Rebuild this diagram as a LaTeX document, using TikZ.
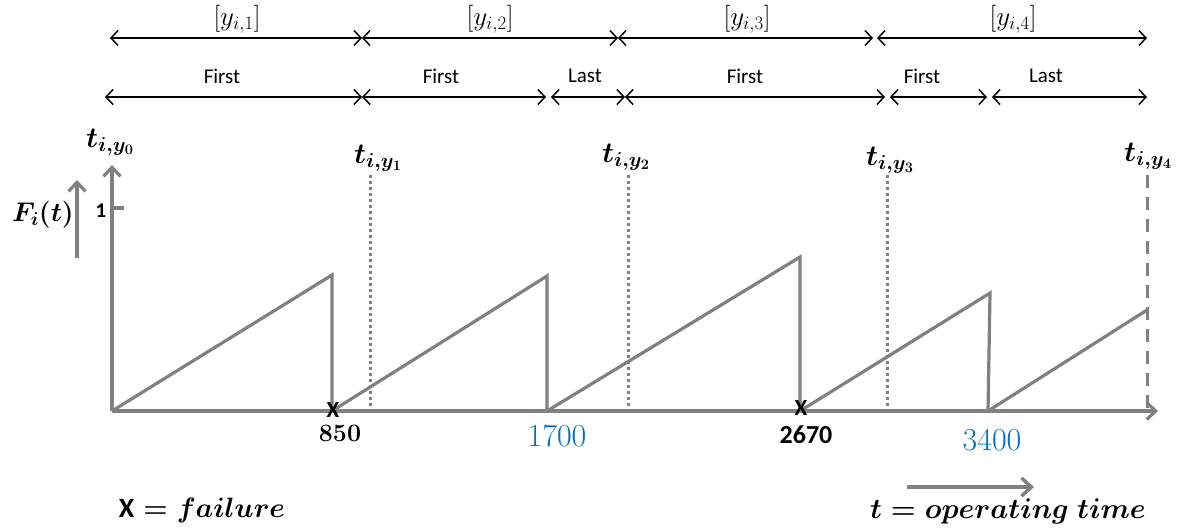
\RequirePackage{fix-cm}
\documentclass[tikz,border=0pt]{standalone}
\usepackage{amsmath,bm}
\usepackage{fontspec}
\newfontfamily\calibri{Carlito}
\usetikzlibrary{arrows.meta}
\definecolor{ax}{RGB}{128,128,128}
\definecolor{blu}{RGB}{0,112,192}
\tikzset{
  dim/.style={draw=black, line width=1.5pt, {Straight Barb[length=7pt,width=15pt]}-{Straight Barb[length=7pt,width=15pt]}},
  axisline/.style={draw=ax, line width=3.2pt, -{Straight Barb[length=9pt,width=17pt]}},
  saw/.style={draw=ax, line width=3.2pt, line join=miter},
  dotv/.style={draw=ax, line width=3pt, dash pattern=on 3pt off 3pt},
  dashv/.style={draw=ax, line width=3pt, dash pattern=on 13pt off 9pt},
  lab/.style={inner sep=0pt, font=\calibri\fontsize{21}{21}\selectfont},
  brk/.style={inner sep=0pt, font=\fontsize{27}{27}\selectfont},
  tlab/.style={inner sep=0pt, font=\fontsize{29}{29}\selectfont\boldmath},
}
\begin{document}
\begin{tikzpicture}[x=1pt,y=-1pt]
\useasboundingbox (0,0) rectangle (1182,531);
% row 1
\coordinate (a0) at (110,38);
\coordinate (a1) at (362,38);
\coordinate (a2) at (618,38);
\coordinate (a3) at (873,38);
\coordinate (a3b) at (877,38);
\coordinate (a4) at (1147,38);
\draw[dim] (a0) -- (a1);
\draw[dim] (a1) -- (a2);
\draw[dim] (a2) -- (a3);
\draw[dim] (a3b) -- (a4);
\node[brk] (r1) at (237,19) {$[y_{i,1}]$};
\node[brk] (r2) at (490,19) {$[y_{i,2}]$};
\node[brk] (r3) at (747,19) {$[y_{i,3}]$};
\node[brk] (r4) at (1013,19) {$[y_{i,4}]$};
% row 2
\coordinate (b0) at (105,97);
\coordinate (b1) at (362,97);
\coordinate (b2) at (546,97);
\coordinate (b2b) at (551,97);
\coordinate (b3) at (625,97);
\coordinate (b4) at (885,97);
\coordinate (b4b) at (890,97);
\coordinate (b5) at (987,97);
\coordinate (b5b) at (992,97);
\coordinate (b6) at (1147,97);
\draw[dim] (b0) -- (b1);
\draw[dim] (b1) -- (b2);
\draw[dim] (b2b) -- (b3);
\draw[dim] (b3) -- (b4);
\draw[dim] (b4b) -- (b5);
\draw[dim] (b5b) -- (b6);
\node[lab] (f1) at (222,76) {First};
\node[lab] (f2) at (441,76) {First};
\node[lab] (l1) at (585,76) {Last};
\node[lab] (f3) at (745,76) {First};
\node[lab] (f4) at (922,76) {First};
\node[lab] (l2) at (1046,76) {Last};
% axes
\coordinate (o) at (112,411);
\coordinate (xe) at (1158,411);
\coordinate (ye) at (112,165);
\draw[axisline] (o) -- (xe);
\draw[axisline] (o) -- (ye);
\coordinate (fa) at (77,258);
\coordinate (fb) at (77,180);
\draw[axisline] (fa) -- (fb);
\coordinate (t1a) at (112,208);
\coordinate (t1b) at (124,208);
\draw[draw=ax, line width=3.2pt] (t1a) -- (t1b);
\node[inner sep=0pt, font=\calibri\bfseries\fontsize{21}{21}\selectfont] (one) at (101,211) {1};
\node[inner sep=0pt, font=\fontsize{27}{27}\selectfont\boldmath] (F) at (43,215) {$F_i(t)$};
% t labels
\node[tlab] (ty0) at (110,142) {$t_{i,y_0}$};
\node[tlab] (ty1) at (378,158) {$t_{i,y_1}$};
\node[tlab] (ty2) at (626,157) {$t_{i,y_2}$};
\node[tlab] (ty3) at (890,160) {$t_{i,y_3}$};
\node[tlab] (ty4) at (1148,156) {$t_{i,y_4}$};
% vertical markers
\coordinate (v1t) at (370,175); \coordinate (v1b) at (370,411);
\coordinate (v2t) at (628,175); \coordinate (v2b) at (628,411);
\coordinate (v3t) at (887,175); \coordinate (v3b) at (887,411);
\coordinate (v4t) at (1147,175); \coordinate (v4b) at (1147,411);
\draw[dotv] (v1t) -- (v1b);
\draw[dotv] (v2t) -- (v2b);
\draw[dotv] (v3t) -- (v3b);
\draw[dashv] (v4t) -- (v4b);
% sawtooth
\coordinate (p1) at (332,275); \coordinate (q1) at (332,411);
\coordinate (p2) at (547,276); \coordinate (q2) at (547,411);
\coordinate (p3) at (800,257); \coordinate (q3) at (800,411);
\coordinate (p4) at (990,293); \coordinate (q4) at (988,411);
\coordinate (p5) at (1147,310);
\draw[saw] (o) -- (p1) -- (q1);
\draw[saw] (q1) -- (p2) -- (q2);
\draw[saw] (q2) -- (p3) -- (q3);
\draw[saw] (q3) -- (p4) -- (q4);
\draw[saw] (q4) -- (p5);
% failure marks
\node[inner sep=0pt, font=\calibri\bfseries\fontsize{23}{23}\selectfont] (x1) at (333,410) {X};
\node[inner sep=0pt, font=\calibri\bfseries\fontsize{23}{23}\selectfont] (x2) at (801,408) {X};
% values
\node[inner sep=0pt, font=\bfseries\fontsize{25}{25}\selectfont] (n850) at (340,433) {850};
\node[inner sep=0pt, text=blu, font=\fontsize{32}{32}\selectfont] (n1700) at (557,436) {1700};
\node[inner sep=0pt, font=\calibri\bfseries\fontsize{26}{26}\selectfont] (n2670) at (806,435) {2670};
\node[inner sep=0pt, text=blu, font=\fontsize{32}{32}\selectfont] (n3400) at (992,440) {3400};
% legend
\node[inner sep=0pt, font=\fontsize{28}{28}\selectfont\boldmath] (leg1) at (202,510) {{\calibri\bfseries X}${}= failure$};
\coordinate (ta) at (907,487); \coordinate (tb) at (1034,487);
\draw[draw=ax, line width=3.4pt, -{Straight Barb[length=10pt,width=18pt]}] (ta) -- (tb);
\node[inner sep=0pt, font=\fontsize{28.5}{28.5}\selectfont\boldmath] (leg2) at (1008,511) {$t = operating\ time$};
\end{tikzpicture}
\end{document}
